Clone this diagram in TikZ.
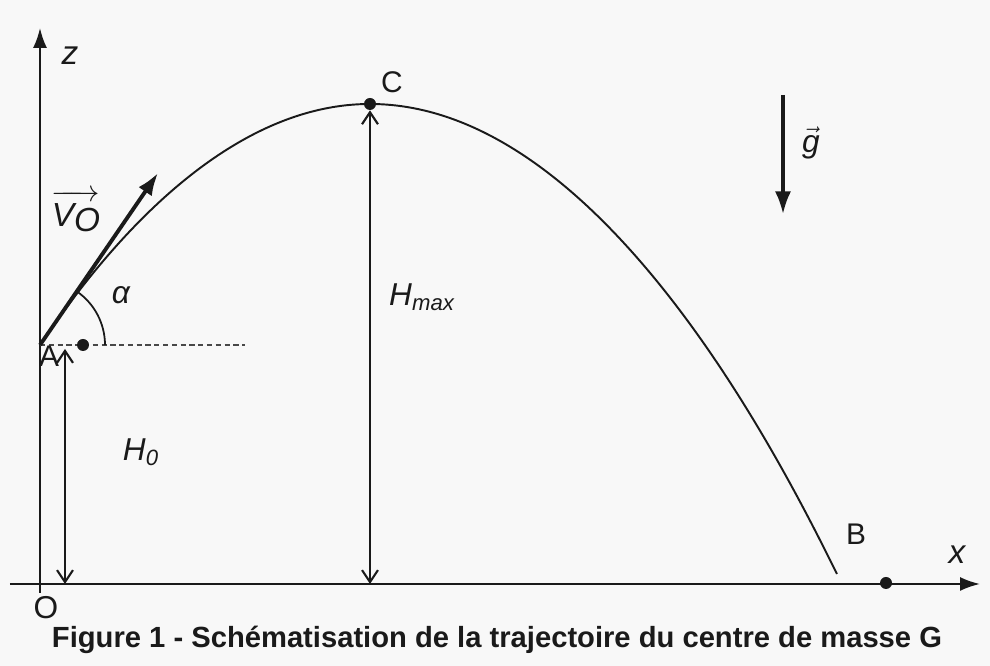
\documentclass[tikz,border=0pt]{standalone}
\usepackage{fontspec}
\setmainfont{Liberation Sans}
\usetikzlibrary{arrows.meta}
\definecolor{paper}{HTML}{F8F8F8}
\definecolor{ink}{HTML}{1A1A1A}

\begin{document}
\begin{tikzpicture}[
    axis/.style={ink, line width=1.2pt, -{Latex[length=4mm,width=2.8mm]}},
    height/.style={ink, line width=1.2pt, {Straight Barb[length=2.4mm,width=3.2mm]}-{Straight Barb[length=2.4mm,width=3.2mm]}},
    vecarrow/.style={ink, line width=2.2pt, -{Latex[length=4.5mm,width=3.2mm]}},
    traj/.style={ink, line width=1.1pt},
    dot/.style={circle, fill=ink, inner sep=0pt, minimum size=2.4mm},
    lbl/.style={font=\fontsize{17}{19}\selectfont, text=ink, inner sep=1pt}
  ]
  \useasboundingbox (0,0) rectangle (19.8,13.32);
  \fill[paper] (0,0) rectangle (19.8,13.32);

  % Axes
  \coordinate (O) at (0.8,1.64);
  \coordinate (zbot) at (0.8,1.46);
  \coordinate (ztop) at (0.8,12.76);
  \coordinate (xleft) at (0.2,1.64);
  \coordinate (xright) at (19.6,1.64);
  \draw[axis] (zbot) -- (ztop);
  \draw[axis] (xleft) -- (xright);
  \node[lbl, font=\fontsize{19}{21}\selectfont\itshape] (zlabel) at (1.4,12.2) {z};
  \node[lbl, font=\fontsize{19}{21}\selectfont\itshape] (xlabel) at (19.14,2.22) {x};
  \node[lbl, font=\fontsize{18}{20}\selectfont] (Olabel) at (0.92,1.16) {O};

  % Trajectory A -> C -> B
  \coordinate (A) at (0.8,6.42);
  \coordinate (C) at (7.4,11.24);
  \coordinate (Bend) at (16.74,1.84);
  \draw[traj] (A) parabola bend (C) (Bend);
  \node[dot] (Cdot) at (C) {};
  \node[lbl] (Clabel) at (7.84,11.68) {C};
  \node[dot] (Bdot) at (17.72,1.66) {};
  \node[lbl] (Blabel) at (17.12,2.64) {B};

  % Launch point and initial velocity
  \coordinate (dashend) at (4.9,6.42);
  \draw[ink!80, line width=0.9pt, dash pattern=on 3pt off 2pt] (A) -- (dashend);
  \node[dot] (launch) at (1.66,6.42) {};
  \coordinate (Vtip) at (3.16,9.86);
  \draw[vecarrow] (A) -- (Vtip);
  \draw[ink, line width=1pt] (A) ++(1.3,0) arc (0:55:1.3);
  \node[lbl, font=\fontsize{18}{20}\selectfont\itshape] (alpha) at (2.42,7.42) {α};
  \node[lbl, font=\fontsize{19}{21}\selectfont\itshape] (V0) at (1.52,9.1)
    {$\overrightarrow{\mbox{\rule{0pt}{0.8em}V\raisebox{-0.3ex}{O}}}$};
  \node[lbl] (Alabel) at (0.98,6.2) {A};

  % Heights
  \coordinate (H0top) at (1.3,6.34);
  \coordinate (H0bot) at (1.3,1.64);
  \draw[height] (H0bot) -- (H0top);
  \node[lbl, font=\fontsize{18}{20}\selectfont\itshape] (H0) at (2.82,4.28) {H\textsubscript{0}};
  \coordinate (Cfoot) at (C |- O);
  \draw[height] (Cfoot) -- (Cdot.south);
  \node[lbl, font=\fontsize{18}{20}\selectfont\itshape] (Hmax) at (8.44,7.38) {H\textsubscript{max}};

  % Gravity
  \coordinate (gtop) at (15.66,11.42);
  \coordinate (gbot) at (15.66,9.04);
  \draw[vecarrow, line width=1.8pt] (gtop) -- (gbot);
  \node[lbl, font=\fontsize{18}{20}\selectfont\itshape] (g) at (16.22,10.46) {$\vec{\mbox{g}}$};

  % Caption
  \node[font=\fontsize{16.6}{19}\selectfont\bfseries, text=ink] (caption) at (9.94,0.52)
    {Figure 1 - Schématisation de la trajectoire du centre de masse G};
\end{tikzpicture}
\end{document}
